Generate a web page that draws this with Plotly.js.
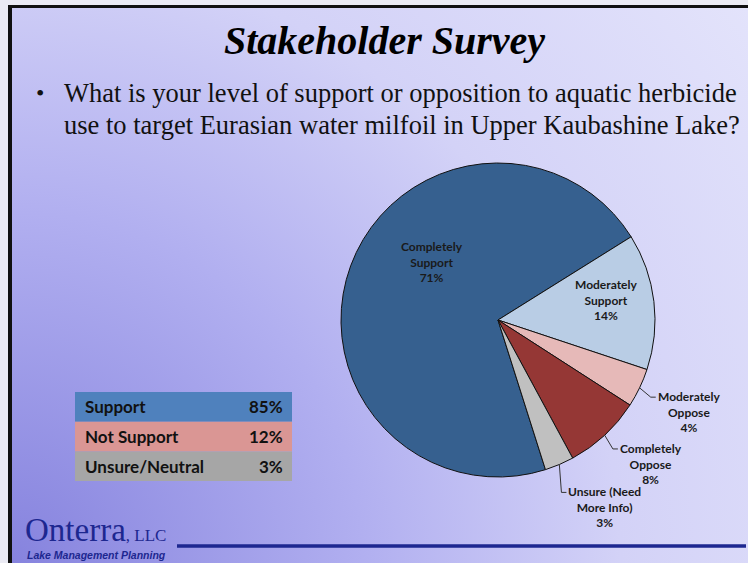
<!DOCTYPE html>
<html><head><meta charset="utf-8">
<script src="https://cdn.plot.ly/plotly-3.0.1.min.js"></script>
<style>
html,body{margin:0;padding:0;width:748px;height:563px;overflow:hidden;background:#ebebf4;}
#bg{position:absolute;left:8px;top:5px;width:740px;height:558px;border-left:4px solid #111;border-top:3px solid #111;box-sizing:border-box;
background: radial-gradient(circle farthest-corner at 0% 100%, #8683de 0%, #b1aff0 38%, #d3d2f7 66%, #e3e3fb 100%);}
#chart{position:absolute;left:0;top:0;width:748px;height:563px;}
</style></head><body><div id="bg"></div><div id="chart"></div>
<script>
// ---- data ----
const categories = ['Completely Support','Moderately Support','Moderately Oppose','Completely Oppose','Unsure (Need More Info)'];
const labelLines = [['Completely','Support'],['Moderately','Support'],['Moderately','Oppose'],['Completely','Oppose'],['Unsure (Need','More Info)']];
const percentValues = [71,14,4,8,3];
const sliceColors = ['#36608f','#b9cde5','#e6b9b8','#953735','#c0c0c0'];
const summaryCategories = ['Support','Not Support','Unsure/Neutral'];
const summaryValues = [85,12,3];
const summaryColors = ['#4f81bd','#da9694','#a6a6a6'];
const bulletLines = ['What is your level of support or opposition to aquatic herbicide',
                     'use to target Eurasian water milfoil in Upper Kaubashine Lake?'];

// ---- layout geometry ----
const W=748, H=563;
const px = x => x/W, py = y => 1 - y/H;
const pie = {left:341, right:655, top:163, bottom:477};
const cx = (pie.left+pie.right)/2, cy = (pie.top+pie.bottom)/2, R = (pie.right-pie.left)/2;
const startAngle = 162.4;
const labelPlace = [
  {mode:'in', dTheta:21, rf:0.56},
  {mode:'in', dTheta:-3.7, rf:0.70},
  {mode:'out', dTheta:1.2, rf:1.09},
  {mode:'out', dTheta:1.1, rf:1.10},
  {mode:'out', dTheta:2.8, rf:1.17}
];
const labelFont = {family:'Lato, Carlito, sans-serif', size:12, color:'#1a1a1a'};
const navy = '#1d2790';
const table = {left:75, right:292, top:392, rowH:29.7, padL:8, padR:7};
const tableFont = {family:'Lato, Carlito, sans-serif', size:17, color:'#111'};

const total = percentValues.reduce((a,b)=>a+b,0);
const annotations = [], shapes = [];
let cum = 0;
const pt = (theta, r) => {
  const t = theta*Math.PI/180;
  return [cx + r*Math.sin(t), cy - r*Math.cos(t)];
};
percentValues.forEach((v,i)=>{
  const span = v/total*360;
  const mid = startAngle + cum + span/2;
  cum += span;
  const p = labelPlace[i];
  const txt = labelLines[i].map(s=>'<b>'+s+'</b>').join('<br>') + '<br><b>' + v + '%</b>';
  if (p.mode==='in') {
    const [x,y] = pt(mid+p.dTheta, R*p.rf);
    annotations.push({xref:'paper',yref:'paper',x:px(x),y:py(y),xanchor:'center',yanchor:'middle',
      text:txt,showarrow:false,align:'center',font:labelFont});
  } else {
    const [ex,ey] = pt(mid, R);
    const [bx,by] = pt(mid+p.dTheta, R*p.rf);
    shapes.push({type:'path',xref:'paper',yref:'paper',
      path:`M ${px(ex)},${py(ey)} L ${px(bx)},${py(by)} L ${px(bx+5)},${py(by)}`,
      line:{color:'#333',width:1}});
    annotations.push({xref:'paper',yref:'paper',x:px(bx+5),y:py(by+15),xanchor:'left',yanchor:'middle',
      text:txt,showarrow:false,align:'center',font:labelFont});
  }
});

// summary table (rows from data)
summaryCategories.forEach((c,i)=>{
  const y0 = table.top + i*table.rowH, y1 = y0 + table.rowH;
  shapes.push({type:'rect',xref:'paper',yref:'paper',x0:px(table.left),x1:px(table.right),y0:py(y1),y1:py(y0),
    fillcolor:summaryColors[i],line:{width:0},layer:'below'});
  annotations.push({xref:'paper',yref:'paper',x:px(table.left+table.padL),y:py((y0+y1)/2),xanchor:'left',yanchor:'middle',
    showarrow:false,text:'<b>'+c+'</b>',font:tableFont});
  annotations.push({xref:'paper',yref:'paper',x:px(table.right-table.padR),y:py((y0+y1)/2),xanchor:'right',yanchor:'middle',
    showarrow:false,text:'<b>'+summaryValues[i]+'%</b>',font:tableFont});
});

// slide texts
annotations.push({xref:'paper',yref:'paper',x:px(384),y:py(40),xanchor:'center',yanchor:'middle',showarrow:false,
  text:'<b><i>Stakeholder Survey</i></b>',font:{family:'Liberation Serif, serif',size:40,color:'#000'}});
annotations.push({xref:'paper',yref:'paper',x:px(34),y:py(93),xanchor:'left',yanchor:'middle',showarrow:false,
  text:'•',font:{family:'Liberation Serif, serif',size:24,color:'#111'}});
bulletLines.forEach((s,i)=>{
  annotations.push({xref:'paper',yref:'paper',x:px(62),y:py(93+32*i),xanchor:'left',yanchor:'middle',showarrow:false,align:'left',
    text:s,font:{family:'Liberation Serif, serif',size:26.5,color:'#111'}});
});
annotations.push({xref:'paper',yref:'paper',x:px(23),y:py(530),xanchor:'left',yanchor:'middle',showarrow:false,
  text:'Onterra<span style="font-size:17px">, LLC</span>',font:{family:'Liberation Serif, serif',size:33,color:navy}});
annotations.push({xref:'paper',yref:'paper',x:px(25),y:py(555),xanchor:'left',yanchor:'middle',showarrow:false,
  text:'<b><i>Lake Management Planning</i></b>',font:{family:'Liberation Sans, Arial, sans-serif',size:10.5,color:navy}});
shapes.push({type:'line',xref:'paper',yref:'paper',x0:px(177),x1:px(746),y0:py(546),y1:py(546),line:{color:navy,width:3.5}});

const pieTrace = {
  type:'pie', labels:categories, values:percentValues, sort:false, direction:'clockwise', rotation:startAngle,
  marker:{colors:sliceColors, line:{color:'#111',width:1}},
  textinfo:'none', hoverinfo:'none', showlegend:false,
  domain:{x:[px(pie.left),px(pie.right)], y:[py(pie.bottom),py(pie.top)]}
};

Plotly.newPlot('chart',[pieTrace],{
  width:W, height:H, margin:{l:0,r:0,t:0,b:0},
  paper_bgcolor:'rgba(0,0,0,0)', plot_bgcolor:'rgba(0,0,0,0)',
  annotations, shapes, showlegend:false
},{staticPlot:true});
</script></body></html>
